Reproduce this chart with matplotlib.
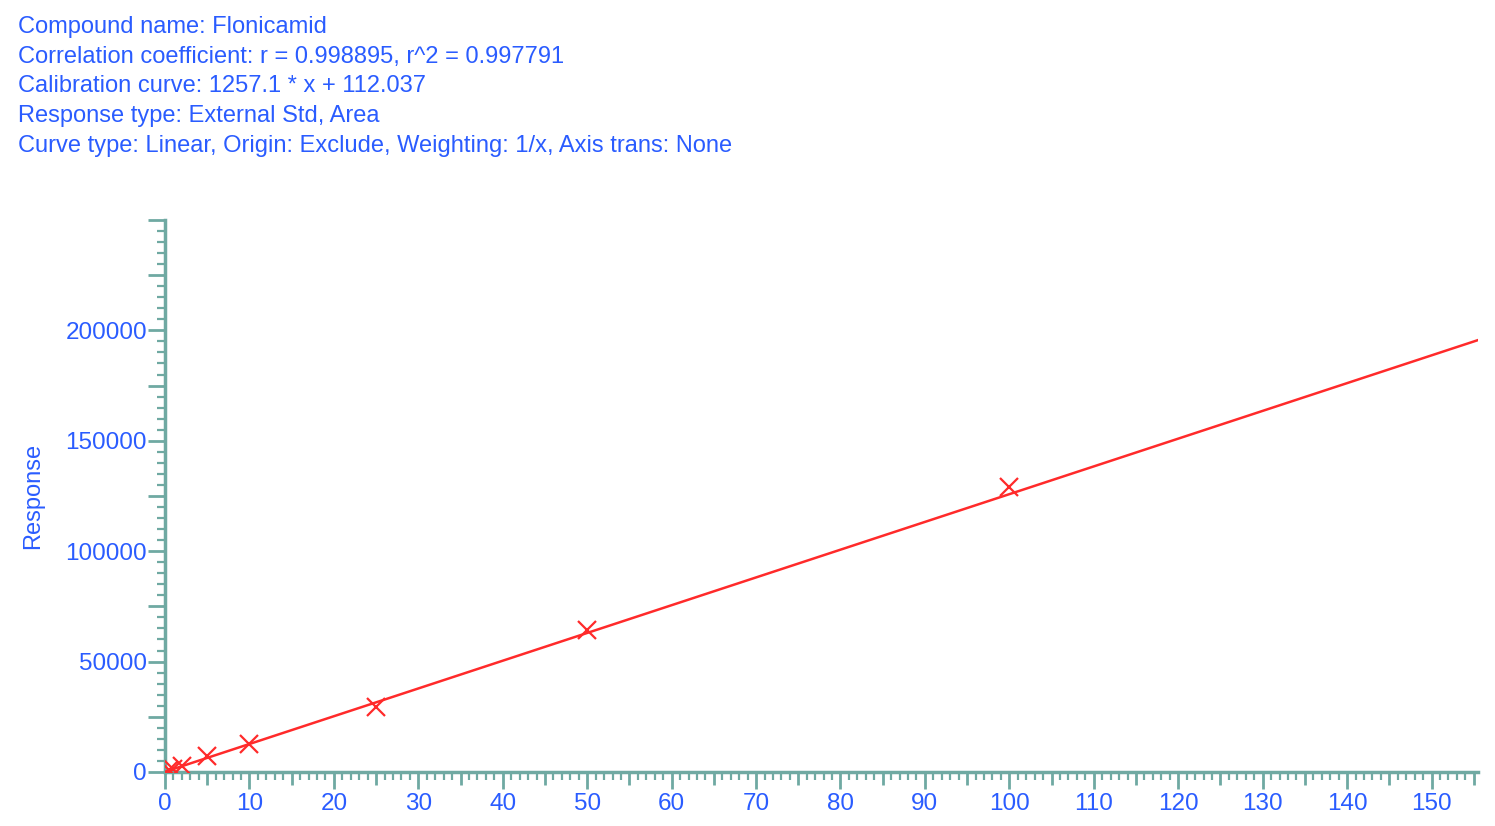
import numpy as np
import matplotlib.pyplot as plt
from matplotlib.ticker import MultipleLocator, FuncFormatter

plt.rcParams['font.family'] = ['Liberation Sans', 'DejaVu Sans']

# calibration standards (concentration, response)
conc = [0.5, 1, 2, 5, 10, 25, 50, 100]
resp = [700, 1300, 2500, 7100, 12600, 29500, 64500, 129200]

# fitted curve from the report
slope = 1257.1
intercept = 112.037

header = [
    "Compound name: Flonicamid",
    "Correlation coefficient: r = 0.998895, r^2 = 0.997791",
    "Calibration curve: 1257.1 * x + 112.037",
    "Response type: External Std, Area",
    "Curve type: Linear, Origin: Exclude, Weighting: 1/x, Axis trans: None",
]

blue = "#2a5cff"
axcol = "#6fa9a2"
red = "#ff2a2a"

fig = plt.figure(figsize=(14.95, 8.26), dpi=100)
ax = fig.add_axes([0.1104, 0.0654, 0.8782, 0.6683])

xmax = 155.5
ymax = 250000
xs = np.array([0, xmax])
ax.plot(xs, slope * xs + intercept, color=red, lw=1.8, zorder=3)
ax.plot(conc, resp, ls="none", marker="x", ms=13, mew=1.6, color=red, zorder=4)

ax.set_xlim(0, xmax)
ax.set_ylim(0, ymax)

for s in ["top", "right"]:
    ax.spines[s].set_visible(False)
for s in ["left", "bottom"]:
    ax.spines[s].set_color(axcol)
    ax.spines[s].set_linewidth(2.5)

# x ticks: every 5 major (label only 10s), every 1 minor
ax.xaxis.set_major_locator(MultipleLocator(5))
ax.xaxis.set_minor_locator(MultipleLocator(1))
ax.xaxis.set_major_formatter(FuncFormatter(lambda v, p: "%d" % v if round(v) % 10 == 0 else ""))
# y ticks: every 25000 major (label only 50000s up to 200000), every 5000 minor
ax.yaxis.set_major_locator(MultipleLocator(25000))
ax.yaxis.set_minor_locator(MultipleLocator(5000))
ax.yaxis.set_major_formatter(FuncFormatter(lambda v, p: "%d" % v if round(v) % 50000 == 0 and v <= 200000 else ""))

ax.tick_params(which="major", length=12, width=2, color=axcol, labelcolor=blue, labelsize=17.5)
ax.tick_params(which="minor", length=6, width=1.6, color=axcol)
ax.tick_params(axis="x", pad=3)
ax.tick_params(axis="y", pad=1)

fig.canvas.draw()
for t, v in zip(ax.xaxis.get_major_ticks(), ax.xaxis.get_majorticklocs()):
    if round(v) % 10 != 0:
        t.tick1line.set_markersize(9)

ax.set_ylabel("Response", color=blue, fontsize=17)
ax.yaxis.set_label_coords(-0.092, 0.5)

for i, line in enumerate(header):
    fig.text(0.012, 1 - (27 + i * 29.7) / 826, line, color=blue, fontsize=17, va="center", ha="left")

fig.savefig("out.png", dpi=100)
